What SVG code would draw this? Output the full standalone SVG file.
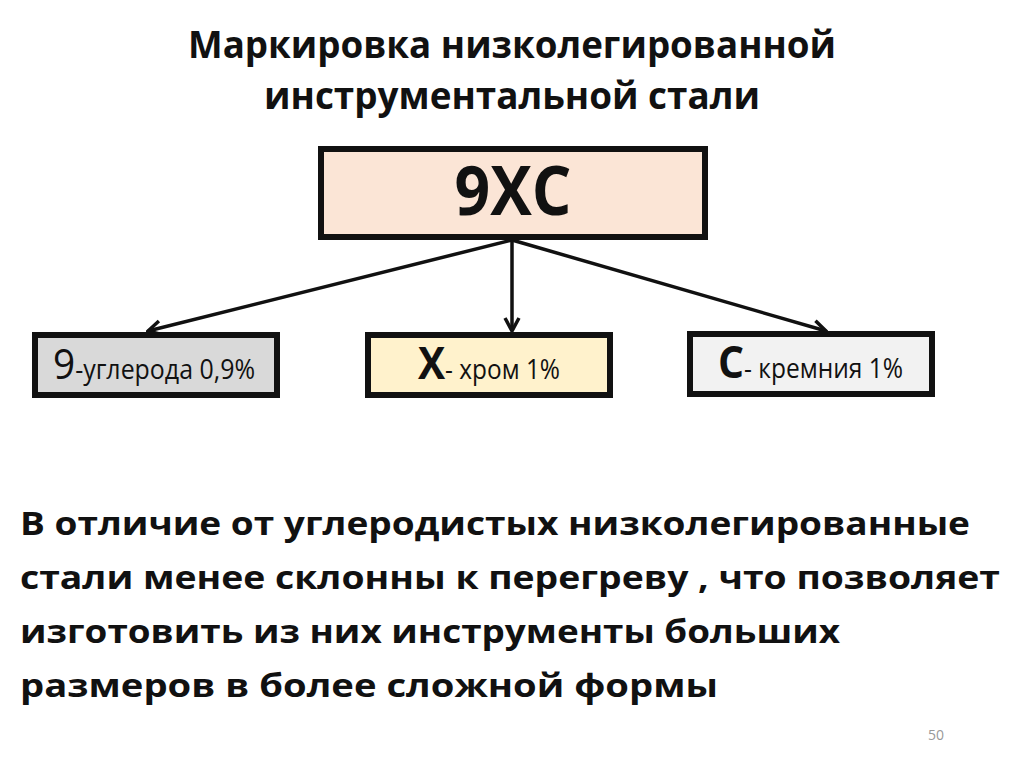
<svg xmlns="http://www.w3.org/2000/svg" width="1024" height="767" viewBox="0 0 1024 767">
<defs>
<style>
text{font-family:"Open Sans","Liberation Sans",sans-serif;fill:#111}
.b{font-weight:bold}
.box{stroke:#111;stroke-width:6}
.con{stroke:#111;stroke-width:3.5;fill:none}
.lbl{font-size:27px}
</style>
<marker id="ah" viewBox="0 0 18 18" refX="16" refY="9" markerWidth="18" markerHeight="18" markerUnits="userSpaceOnUse" orient="auto">
<path d="M3,2 L16,9 L3,16" fill="none" stroke="#111" stroke-width="3.5"/>
</marker>
</defs>
<rect width="1024" height="767" fill="#fff"/>
<g id="title">
<text class="b" x="512" y="58" font-size="38" text-anchor="middle" textLength="648" lengthAdjust="spacingAndGlyphs">Маркировка низколегированной</text>
<text class="b" x="512" y="109" font-size="38" text-anchor="middle" textLength="496" lengthAdjust="spacingAndGlyphs">инструментальной стали</text>
</g>
<g id="connectors">
<line class="con" x1="512" y1="240" x2="148" y2="331" marker-end="url(#ah)"/>
<line class="con" x1="512" y1="240" x2="512" y2="331" marker-end="url(#ah)"/>
<line class="con" x1="512" y1="240" x2="826" y2="331" marker-end="url(#ah)"/>
</g>
<g id="node-main">
<rect class="box" x="321" y="149" width="384" height="88" fill="#fbe5d6"/>
<text class="b" x="513" y="215" font-size="68" text-anchor="middle" textLength="117" lengthAdjust="spacingAndGlyphs">9ХС</text>
</g>
<g id="node-carbon">
<rect class="box" x="35" y="335" width="242" height="60" fill="#d9d9d9"/>
<text x="53" y="379" textLength="202" lengthAdjust="spacingAndGlyphs"><tspan font-size="42">9</tspan><tspan class="lbl">-углерода 0,9%</tspan></text>
</g>
<g id="node-chrome">
<rect class="box" x="368" y="335" width="242" height="60" fill="#fff2cc"/>
<text x="418" y="379" textLength="142" lengthAdjust="spacingAndGlyphs"><tspan class="b" font-size="45">Х</tspan><tspan class="lbl">- хром 1%</tspan></text>
</g>
<g id="node-silicon">
<rect class="box" x="690" y="334" width="242" height="60" fill="#f2f2f2"/>
<text x="718" y="378" textLength="185" lengthAdjust="spacingAndGlyphs"><tspan class="b" font-size="45">С</tspan><tspan class="lbl">- кремния 1%</tspan></text>
</g>
<g id="body">
<text class="b" x="20" y="535" font-size="33" textLength="950" lengthAdjust="spacingAndGlyphs">В отличие от углеродистых низколегированные</text>
<text class="b" x="20" y="589" font-size="33" textLength="980" lengthAdjust="spacingAndGlyphs">стали менее склонны к перегреву , что позволяет</text>
<text class="b" x="20" y="643" font-size="33" textLength="820" lengthAdjust="spacingAndGlyphs">изготовить из них инструменты больших</text>
<text class="b" x="20" y="697" font-size="33" textLength="698" lengthAdjust="spacingAndGlyphs">размеров в более сложной формы</text>
</g>
<text x="928" y="740" font-size="14" style="fill:#999">50</text>
</svg>
